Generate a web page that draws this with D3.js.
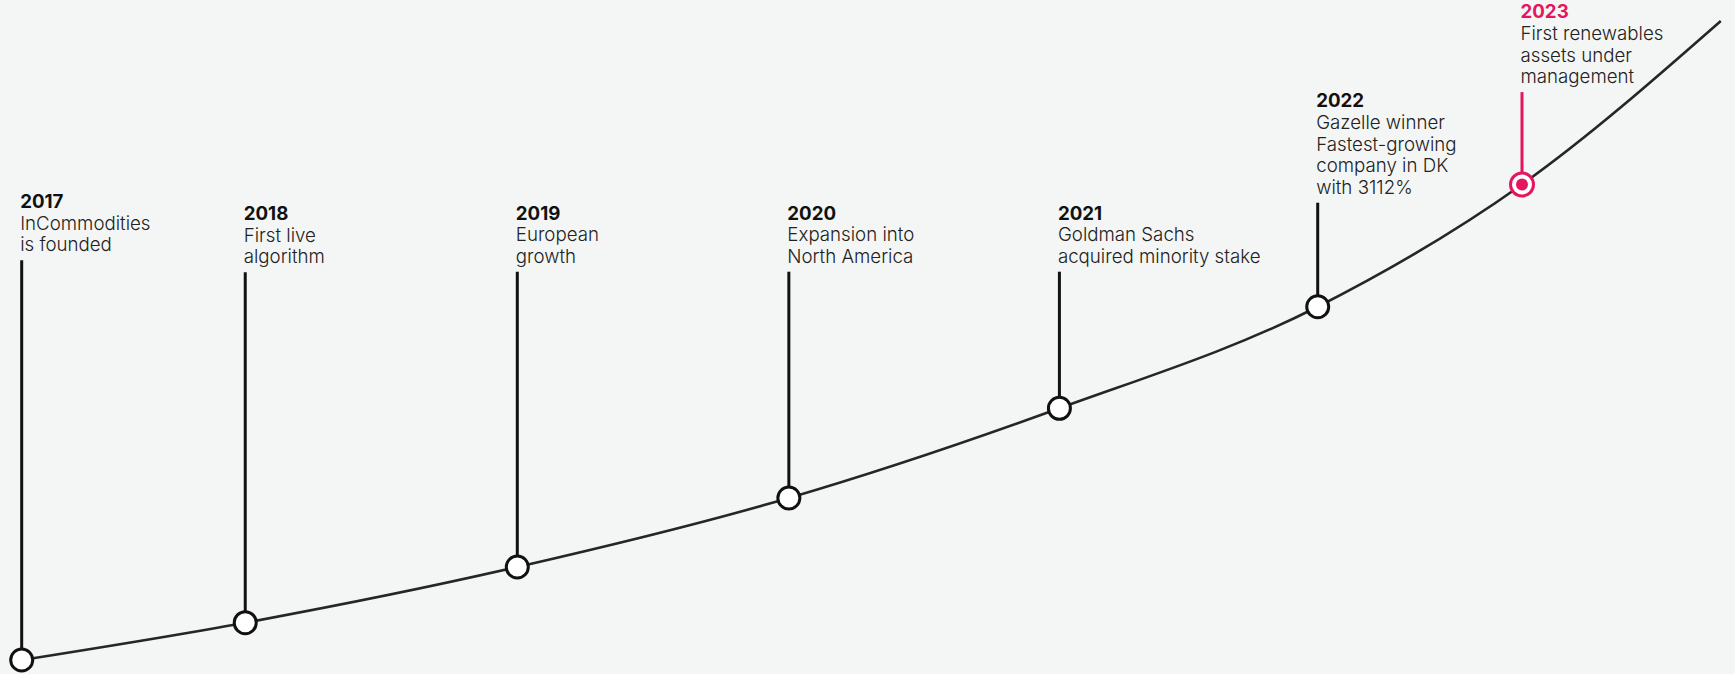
<!DOCTYPE html>
<html>
<head>
<meta charset="utf-8">
<script src="https://cdn.jsdelivr.net/npm/d3@7"></script>
<style>
  html, body { margin: 0; padding: 0; background: #F4F6F5; }
  svg { display: block; }
  text { font-family: Inter, "Noto Sans", sans-serif; }
</style>
</head>
<body>
<svg id="chart" width="1735" height="674"></svg>
<script>
// ---- data ----
const years = ["2017", "2018", "2019", "2020", "2021", "2022", "2023"];
const descriptions = [
  ["InCommodities", "is founded"],
  ["First live", "algorithm"],
  ["European", "growth"],
  ["Expansion into", "North America"],
  ["Goldman Sachs", "acquired minority stake"],
  ["Gazelle winner", "Fastest-growing", "company in DK", "with 3112%"],
  ["First renewables", "assets under", "management"]
];
// position of each milestone on the timeline (fractional year)
const timeline = [2017.0, 2017.894, 2018.982, 2020.068, 2021.150, 2022.183, 2023.0];
// growth index at each milestone
const growth = [0, 5.83, 14.53, 25.31, 39.33, 55.2, 74.3];
// continuation of the growth curve after the last milestone
const curveEndTime = 2023.795;
const curveEndGrowth = 99.84;
const highlightYear = "2023";

// ---- layout / style ----
const labelYearBaseline = [208, 220, 219.5, 219.5, 219.5, 107.3, 18.3];
const lineHeight = 21.6;
const fontSize = 18.7;
const pink = "#E3165F";

const svg = d3.select("#chart");
const x = d3.scaleLinear().domain([2017, 2023]).range([21.7, 1522]);
const y = d3.scaleLinear().domain([0, 100]).range([660, 20]);

const points = timeline.map((t, i) => ({ t, g: growth[i], year: years[i], desc: descriptions[i], i }));
const curvePts = points.map(p => [p.t, p.g]).concat([[curveEndTime, curveEndGrowth]]);

const line = d3.line().x(d => x(d[0])).y(d => y(d[1])).curve(d3.curveMonotoneX);

svg.append("path")
  .attr("d", line(curvePts))
  .attr("fill", "none")
  .attr("stroke", "#262626")
  .attr("stroke-width", 2.6);

const g = svg.selectAll("g.milestone").data(points).join("g").attr("class", "milestone");

// stems
g.append("line")
  .attr("x1", d => x(d.t)).attr("x2", d => x(d.t))
  .attr("y1", d => labelYearBaseline[d.i] + d.desc.length * lineHeight + 9)
  .attr("y2", d => y(d.g))
  .attr("stroke", d => d.year === highlightYear ? pink : "#111")
  .attr("stroke-width", 3);

// circles
g.append("circle")
  .attr("cx", d => x(d.t)).attr("cy", d => y(d.g))
  .attr("r", d => d.year === highlightYear ? 11.5 : 11)
  .attr("fill", "#fff")
  .attr("stroke", d => d.year === highlightYear ? pink : "#111")
  .attr("stroke-width", 3);

g.filter(d => d.year === highlightYear).append("circle")
  .attr("cx", d => x(d.t)).attr("cy", d => y(d.g))
  .attr("r", 6)
  .attr("fill", pink);

// labels
const lbl = g.append("text")
  .attr("x", d => x(d.t) - 1.5)
  .attr("y", d => labelYearBaseline[d.i]);

lbl.append("tspan")
  .attr("x", d => x(d.t) - 1.5)
  .attr("font-size", fontSize)
  .attr("font-weight", 700)
  .attr("fill", d => d.year === highlightYear ? pink : "#111")
  .text(d => d.year);

lbl.each(function(d) {
  const t = d3.select(this);
  d.desc.forEach((s, k) => {
    t.append("tspan")
      .attr("x", x(d.t) - 1.5)
      .attr("y", labelYearBaseline[d.i] + (k + 1) * lineHeight)
      .attr("font-size", fontSize)
      .attr("font-weight", 300)
      .attr("fill", "#222")
      .text(s);
  });
});
</script>
</body>
</html>
